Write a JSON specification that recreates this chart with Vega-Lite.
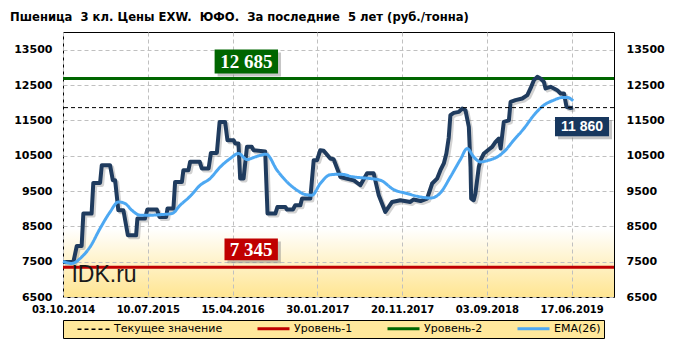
{
  "$schema": "https://vega.github.io/schema/vega-lite/v6.json",
  "width": 551,
  "height": 265,
  "autosize": {"type": "none"},
  "padding": {"left": 63, "top": 32, "right": 67, "bottom": 44},
  "background": "white",
  "title": {
    "text": "Пшеница\u00a0 3 кл. Цены EXW.\u00a0 ЮФО.\u00a0 За последние\u00a0 5 лет (руб./тонна)",
    "anchor": "start",
    "frame": "group",
    "dx": -53,
    "offset": 8,
    "font": "DejaVu Sans",
    "fontSize": 11.6,
    "fontWeight": "bold",
    "color": "black"
  },
  "datasets": {
    "price": [
      {"w": 0, "price": 7490}, {"w": 4.9, "price": 7490}, {"w": 6.5, "price": 7944}, {"w": 8.8, "price": 7944},
      {"w": 9.6, "price": 8862}, {"w": 13.5, "price": 8862}, {"w": 14.3, "price": 9729}, {"w": 17.5, "price": 9729},
      {"w": 18.3, "price": 10230}, {"w": 22.2, "price": 10230}, {"w": 23.5, "price": 9805}, {"w": 24.6, "price": 9805},
      {"w": 26.1, "price": 8955}, {"w": 28.5, "price": 8955}, {"w": 30.6, "price": 8247}, {"w": 34.5, "price": 8247},
      {"w": 35.1, "price": 8720}, {"w": 38.7, "price": 8720}, {"w": 39.8, "price": 8975}, {"w": 44.3, "price": 8975},
      {"w": 45.5, "price": 8765}, {"w": 48.7, "price": 8765}, {"w": 49.3, "price": 9003}, {"w": 52.1, "price": 9003},
      {"w": 52.9, "price": 9757}, {"w": 56.1, "price": 9757}, {"w": 56.8, "price": 10088}, {"w": 59.2, "price": 10088},
      {"w": 60.0, "price": 10330}, {"w": 64.5, "price": 10330}, {"w": 65.5, "price": 10136}, {"w": 68.7, "price": 10136},
      {"w": 69.8, "price": 10578}, {"w": 72.6, "price": 10578}, {"w": 73.9, "price": 11456}, {"w": 76.5, "price": 11456},
      {"w": 77.6, "price": 10938}, {"w": 80.5, "price": 10938}, {"w": 81.3, "price": 10843}, {"w": 82.8, "price": 10843},
      {"w": 83.6, "price": 9853}, {"w": 85.2, "price": 9853}, {"w": 86.8, "price": 10749}, {"w": 89.1, "price": 10749},
      {"w": 89.9, "price": 10655}, {"w": 95.4, "price": 10620}, {"w": 96.5, "price": 8862}, {"w": 100.2, "price": 8862},
      {"w": 101.2, "price": 9049}, {"w": 104.9, "price": 9049}, {"w": 105.7, "price": 8975}, {"w": 108.5, "price": 8975},
      {"w": 109.6, "price": 9097}, {"w": 112.0, "price": 9097}, {"w": 112.8, "price": 9287}, {"w": 116.7, "price": 9287},
      {"w": 118.3, "price": 10372}, {"w": 119.9, "price": 10372}, {"w": 121.4, "price": 10655}, {"w": 123, "price": 10640},
      {"w": 126.1, "price": 10419}, {"w": 127.7, "price": 10400}, {"w": 130.9, "price": 9898}, {"w": 137.1, "price": 9805},
      {"w": 140.3, "price": 9663}, {"w": 143.5, "price": 10000}, {"w": 146.6, "price": 10000}, {"w": 149, "price": 9380},
      {"w": 152.1, "price": 8907}, {"w": 155.3, "price": 9190}, {"w": 159.2, "price": 9239}, {"w": 163.9, "price": 9190},
      {"w": 165.4, "price": 9260}, {"w": 168.7, "price": 9215}, {"w": 171.8, "price": 9287}, {"w": 174.2, "price": 9712},
      {"w": 176.5, "price": 9850}, {"w": 178.1, "price": 10088}, {"w": 179.7, "price": 10280}, {"w": 180.9, "price": 10561},
      {"w": 182, "price": 11000}, {"w": 182.8, "price": 11646}, {"w": 184.4, "price": 11711}, {"w": 186.8, "price": 11740},
      {"w": 188.4, "price": 11835}, {"w": 189.9, "price": 11788}, {"w": 191.5, "price": 11316}, {"w": 192.3, "price": 10182},
      {"w": 192.6, "price": 9287}, {"w": 193.8, "price": 9239}, {"w": 194.6, "price": 9428}, {"w": 195.4, "price": 9805},
      {"w": 196.2, "price": 10182}, {"w": 197, "price": 10372}, {"w": 198.6, "price": 10561}, {"w": 200.9, "price": 10674},
      {"w": 202.5, "price": 10749}, {"w": 204.1, "price": 10891}, {"w": 205.7, "price": 10985}, {"w": 206.5, "price": 10702},
      {"w": 208, "price": 11456}, {"w": 210.4, "price": 11500}, {"w": 211.2, "price": 12023}, {"w": 213.5, "price": 12071},
      {"w": 216.7, "price": 12118}, {"w": 219.1, "price": 12212}, {"w": 220.6, "price": 12402}, {"w": 222.2, "price": 12637},
      {"w": 223.8, "price": 12731}, {"w": 225.3, "price": 12684}, {"w": 226.9, "price": 12590}, {"w": 227.7, "price": 12402},
      {"w": 230.1, "price": 12449}, {"w": 233.2, "price": 12354}, {"w": 234.8, "price": 12260}, {"w": 236.4, "price": 12260},
      {"w": 237.6, "price": 11882}, {"w": 239.5, "price": 11850}, {"w": 240.7, "price": 11860}
    ],
    "ema": [
      {"w": 0, "ema": 7510}, {"w": 4.1, "ema": 7450}, {"w": 8.8, "ema": 7630}, {"w": 12.8, "ema": 7920},
      {"w": 17.5, "ema": 8440}, {"w": 22.2, "ema": 8905}, {"w": 26.1, "ema": 9190}, {"w": 29.3, "ema": 9145},
      {"w": 32.5, "ema": 8955}, {"w": 36.4, "ema": 8815}, {"w": 41.1, "ema": 8815}, {"w": 45.8, "ema": 8830},
      {"w": 51.4, "ema": 8862}, {"w": 55.3, "ema": 9100}, {"w": 60, "ema": 9350}, {"w": 64.7, "ema": 9663},
      {"w": 69.4, "ema": 9853}, {"w": 74.2, "ema": 10182}, {"w": 78.9, "ema": 10419}, {"w": 82.8, "ema": 10561},
      {"w": 86.8, "ema": 10391}, {"w": 90.7, "ema": 10465}, {"w": 95.9, "ema": 10541}, {"w": 101, "ema": 10088},
      {"w": 105.7, "ema": 9757}, {"w": 110.4, "ema": 9522}, {"w": 114.3, "ema": 9400}, {"w": 117.5, "ema": 9380},
      {"w": 121.4, "ema": 9712}, {"w": 126.1, "ema": 9960}, {"w": 130.9, "ema": 9975}, {"w": 137.1, "ema": 9898},
      {"w": 145, "ema": 9853}, {"w": 149.8, "ema": 9805}, {"w": 156, "ema": 9541}, {"w": 162.4, "ema": 9428},
      {"w": 168.7, "ema": 9332}, {"w": 173.4, "ema": 9300}, {"w": 178.1, "ema": 9450}, {"w": 182.8, "ema": 9900},
      {"w": 187.6, "ema": 10400}, {"w": 190.7, "ema": 10702}, {"w": 193.8, "ema": 10465}, {"w": 197, "ema": 10323},
      {"w": 200.9, "ema": 10372}, {"w": 204.9, "ema": 10465}, {"w": 208, "ema": 10606}, {"w": 212.7, "ema": 10938},
      {"w": 217.5, "ema": 11269}, {"w": 222.2, "ema": 11646}, {"w": 226.9, "ema": 11929}, {"w": 231.6, "ema": 12071},
      {"w": 235.6, "ema": 12146}, {"w": 238, "ema": 12146}, {"w": 240.7, "ema": 12051}
    ],
    "levels": [
      {"series": "Текущее значение", "value": 11860},
      {"series": "Уровень-1", "value": 7345},
      {"series": "Уровень-2", "value": 12685}
    ],
    "mark": [{"t": "IDK.ru"}]
  },
  "layer": [
    {
      "data": {"name": "levels"},
      "transform": [{"filter": "datum.series !== 'Текущее значение'"}],
      "mark": {"type": "rule", "strokeWidth": 3},
      "encoding": {
        "y": {"field": "value", "type": "quantitative", "title": null, "axis": null,
              "scale": {"domain": [6500, 14000], "nice": false, "zero": false}},
        "color": {"field": "series", "type": "nominal", "title": null,
          "scale": {"domain": ["Текущее значение", "Уровень-1", "Уровень-2", "EMA(26)"], "range": ["#000000", "#C00000", "#006600", "#4DA8F2"]},
          "legend": {
            "title": "\u00a0", "titleOrient": "right", "titlePadding": 21, "titleFontSize": 11,
            "orient": "none", "legendX": 0, "legendY": 288, "direction": "horizontal",
            "fillColor": "#FFE89C", "strokeColor": "black", "padding": 3,
            "symbolType": "stroke", "symbolSize": 1024, "symbolOffset": 22, "symbolStrokeWidth": 3,
            "labelFont": "DejaVu Sans", "labelFontSize": 11, "labelColor": "black", "labelOffset": 15,
            "columnPadding": 23,
            "encode": {"symbols": {"update": {"strokeWidth": {"signal": "datum.value === 'Текущее значение' ? 1.5 : 3"}}}}
          }},
        "strokeDash": {"field": "series", "type": "nominal", "title": null,
          "scale": {"domain": ["Текущее значение", "Уровень-1", "Уровень-2", "EMA(26)"], "range": [[4, 3], [1, 0], [1, 0], [1, 0]]}}
      }
    },
    {
      "data": {"name": "price"},
      "mark": {"type": "line", "color": "#7F7F7F", "opacity": 0.35, "strokeWidth": 4, "strokeJoin": "round", "xOffset": 2, "yOffset": 2},
      "encoding": {
        "x": {"field": "w", "type": "quantitative", "title": null},
        "y": {"field": "price", "type": "quantitative", "title": null, "axis": null}
      }
    },
    {
      "data": {"name": "price"},
      "mark": {"type": "line", "color": "#1F3B5E", "strokeWidth": 4, "strokeJoin": "round"},
      "encoding": {
        "x": {"field": "w", "type": "quantitative", "title": null,
              "scale": {"domain": [0, 260], "nice": false, "zero": false},
              "axis": {"values": [0, 40, 80, 120, 160, 200, 240], "grid": true, "labelFontSize": 10, "labelPadding": 7, "labelOverlap": false, "labelFlush": false,
                       "labelExpr": "datum.value == 0 ? '03.10.2014' : datum.value == 40 ? '10.07.2015' : datum.value == 80 ? '15.04.2016' : datum.value == 120 ? '30.01.2017' : datum.value == 160 ? '20.11.2017' : datum.value == 200 ? '03.09.2018' : '17.06.2019'"}},
        "y": {"field": "price", "type": "quantitative", "title": null,
              "scale": {"domain": [6500, 14000], "nice": false, "zero": false},
              "axis": {"orient": "left", "values": [6500, 7500, 8500, 9500, 10500, 11500, 12500, 13500], "format": "d", "grid": true, "labelPadding": 11, "labelOverlap": false}}
      }
    },
    {
      "data": {"name": "ema"},
      "mark": {"type": "line", "strokeWidth": 3, "interpolate": "monotone"},
      "encoding": {
        "x": {"field": "w", "type": "quantitative", "title": null},
        "y": {"field": "ema", "type": "quantitative", "title": null,
              "scale": {"domain": [6500, 14000], "nice": false, "zero": false},
              "axis": {"orient": "right", "values": [6500, 7500, 8500, 9500, 10500, 11500, 12500, 13500], "format": "d", "grid": false, "labelPadding": 12, "labelOverlap": false}},
        "color": {"datum": "EMA(26)", "type": "nominal", "title": null},
        "strokeDash": {"datum": "EMA(26)", "type": "nominal", "title": null}
      }
    },
    {
      "data": {"name": "levels"},
      "transform": [{"filter": "datum.series === 'Текущее значение'"}],
      "mark": {"type": "rule", "strokeWidth": 1},
      "encoding": {
        "y": {"field": "value", "type": "quantitative", "title": null, "axis": null},
        "color": {"field": "series", "type": "nominal", "title": null},
        "strokeDash": {"field": "series", "type": "nominal", "title": null}
      }
    },
    {
      "data": {"name": "levels"},
      "transform": [{"filter": "datum.series === 'Уровень-2'"}],
      "encoding": {
        "x": {"datum": 86.5, "type": "quantitative"},
        "y": {"field": "value", "type": "quantitative", "title": null, "axis": null}
      },
      "layer": [
        {"mark": {"type": "point", "shape": "M-1,-0.379H1V0.379H-1Z", "size": 4020, "filled": true, "color": "#808080", "opacity": 0.45, "xOffset": 3, "yOffset": -14}},
        {"mark": {"type": "point", "shape": "M-1,-0.379H1V0.379H-1Z", "size": 4020, "filled": true, "color": "#006600", "opacity": 1, "yOffset": -17}},
        {"mark": {"type": "text", "color": "white", "font": "Liberation Serif", "fontSize": 19, "fontWeight": "bold", "baseline": "middle", "yOffset": -16},
         "encoding": {"text": {"field": "value", "type": "quantitative", "format": ",d"}}}
      ]
    },
    {
      "data": {"name": "levels"},
      "transform": [{"filter": "datum.series === 'Уровень-1'"}],
      "encoding": {
        "x": {"datum": 88.8, "type": "quantitative"},
        "y": {"field": "value", "type": "quantitative", "title": null, "axis": null}
      },
      "layer": [
        {"mark": {"type": "point", "shape": "M-1,-0.406H1V0.406H-1Z", "size": 2852, "filled": true, "color": "#808080", "opacity": 0.45, "xOffset": 3, "yOffset": -14.7}},
        {"mark": {"type": "point", "shape": "M-1,-0.406H1V0.406H-1Z", "size": 2852, "filled": true, "color": "#C00000", "opacity": 1, "yOffset": -17.7}},
        {"mark": {"type": "text", "color": "white", "font": "Liberation Serif", "fontSize": 19, "fontWeight": "bold", "baseline": "middle", "yOffset": -16.7},
         "encoding": {"text": {"field": "value", "type": "quantitative", "format": ",d"}}}
      ]
    },
    {
      "data": {"name": "levels"},
      "transform": [{"filter": "datum.series === 'Текущее значение'"}],
      "encoding": {
        "x": {"datum": 244.9, "type": "quantitative"},
        "y": {"field": "value", "type": "quantitative", "title": null, "axis": null}
      },
      "layer": [
        {"mark": {"type": "point", "shape": "M-1,-0.357H1V0.357H-1Z", "size": 2916, "filled": true, "color": "#808080", "opacity": 0.45, "xOffset": 3, "yOffset": 22}},
        {"mark": {"type": "point", "shape": "M-1,-0.357H1V0.357H-1Z", "size": 2916, "filled": true, "color": "#17375E", "opacity": 1, "yOffset": 19}},
        {"mark": {"type": "text", "color": "white", "font": "Liberation Sans", "fontSize": 14, "fontWeight": "bold", "baseline": "middle", "yOffset": 19.5},
         "encoding": {"text": {"field": "value", "type": "quantitative", "format": ",d"}}}
      ]
    },
    {
      "data": {"name": "mark"},
      "mark": {"type": "text", "align": "left", "baseline": "alphabetic", "font": "Liberation Sans", "fontSize": 23, "color": "#1A1A1A"},
      "encoding": {
        "x": {"datum": 4.0, "type": "quantitative"},
        "y": {"datum": 6925, "type": "quantitative", "axis": null},
        "text": {"field": "t", "type": "nominal"}
      }
    }
  ],
  "resolve": {"axis": {"y": "independent"}},
  "config": {
    "view": {"stroke": "black", "strokeWidth": 1,
      "fill": {"gradient": "linear", "x1": 0, "y1": 0, "x2": 0, "y2": 1,
        "stops": [{"offset": 0, "color": "#FFFFFF"}, {"offset": 0.74, "color": "#FFFFFF"}, {"offset": 1, "color": "#FFE591"}]}},
    "axis": {"labelFont": "DejaVu Sans", "labelFontWeight": "bold", "labelColor": "black", "labelFontSize": 11,
             "ticks": false, "domain": false, "gridColor": "#C0C0C0", "gridDash": [4, 3], "gridWidth": 1},
    "locale": {"number": {"decimal": ",", "thousands": " ", "grouping": [3], "currency": ["", ""]}}
  }
}
